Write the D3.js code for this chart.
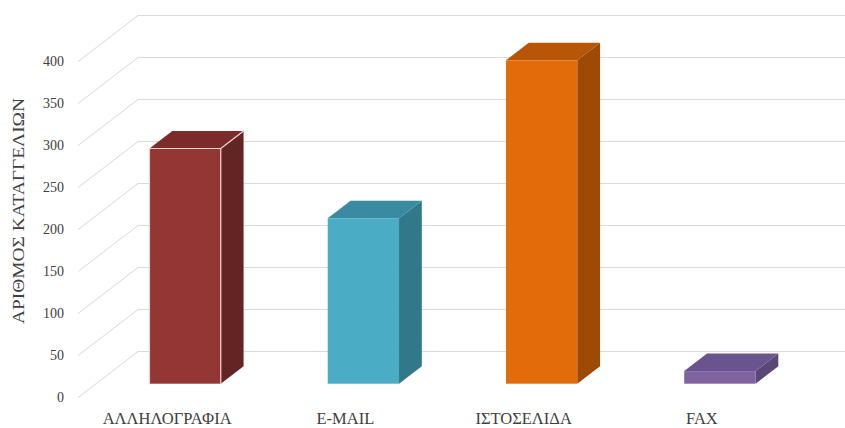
<!DOCTYPE html>
<html>
<head>
<meta charset="utf-8">
<script src="https://cdn.jsdelivr.net/npm/d3@7/dist/d3.min.js"></script>
<style>
  html, body { margin: 0; padding: 0; background: #ffffff; }
  svg { display: block; }
  text { font-family: "Liberation Serif", "DejaVu Serif", serif; fill: #404040; }
</style>
</head>
<body>
<script>
// Complaints received per channel
const categories = ["ΑΛΛΗΛΟΓΡΑΦΙΑ", "E-MAIL", "ΙΣΤΟΣΕΛΙΔΑ", "FAX"];
const complaints = [280, 197, 385, 15];
const yTicks = [0, 50, 100, 150, 200, 250, 300, 350, 400];
const yTitle = "ΑΡΙΘΜΟΣ ΚΑΤΑΓΓΕΛΙΩΝ";

// Face colours for each bar: front, side, top
const palette = [
  { front: "#943634", side: "#632523", top: "#7b2b2a" },
  { front: "#4bacc6", side: "#31788b", top: "#3a8ba2" },
  { front: "#e36c0a", side: "#9c4a06", top: "#b85608" },
  { front: "#8064a2", side: "#5b4776", top: "#6a5490" }
];

const W = 845, H = 428;
const svg = d3.select("body").append("svg").attr("width", W).attr("height", H);

// Oblique projection: full depth of the plot box
const depth = { dx: 60, dy: -46 };
const barNear = 0.3, barFar = 0.68;   // bar depth as fractions of the box depth

const x = d3.scaleBand().domain(categories).range([78, 791]).paddingInner(0.6).paddingOuter(0.3);
const y = d3.scaleLinear().domain([0, 400]).range([397.5, 61.5]);

const proj = (px, v, f) => [px + depth.dx * f, y(v) + depth.dy * f];

// Side wall diagonals and back wall gridlines
const grid = svg.append("g").attr("stroke", "#d9d9d9").attr("stroke-width", 1).attr("fill", "none");
yTicks.forEach(t => {
  const a = proj(78, t, 0), b = proj(78, t, 1);
  grid.append("line").attr("x1", a[0]).attr("y1", a[1]).attr("x2", b[0]).attr("y2", b[1]);
  grid.append("line").attr("x1", b[0]).attr("y1", b[1]).attr("x2", W).attr("y2", b[1]);
});

// Value axis labels
const yAxis = d3.axisLeft(y).tickValues(yTicks).tickSize(0).tickPadding(0);
const ya = svg.append("g").attr("transform", "translate(64,0)").call(yAxis);
ya.select(".domain").remove();
ya.selectAll("text").attr("font-size", 14).attr("font-family", "Liberation Serif, serif").attr("fill", "#595959");

// Axis title
svg.append("text")
  .attr("transform", "translate(20,211) rotate(-90)")
  .attr("text-anchor", "middle")
  .attr("dominant-baseline", "middle")
  .attr("font-size", 16)
  .attr("textLength", 226)
  .attr("lengthAdjust", "spacingAndGlyphs")
  .text(yTitle);

// Bars as extruded boxes
const bars = svg.append("g");
categories.forEach((c, i) => {
  const v = complaints[i];
  const x0 = x(c), x1 = x(c) + x.bandwidth();
  const col = palette[i];
  const p = (px, val, f) => proj(px, val, f).join(",");
  // right side face
  bars.append("polygon")
    .attr("points", [p(x1, 0, barNear), p(x1, v, barNear), p(x1, v, barFar), p(x1, 0, barFar)].join(" "))
    .attr("fill", col.side);
  // top face
  bars.append("polygon")
    .attr("points", [p(x0, v, barNear), p(x1, v, barNear), p(x1, v, barFar), p(x0, v, barFar)].join(" "))
    .attr("fill", col.top);
  // front face
  const f0 = proj(x0, v, barNear), f1 = proj(x1, 0, barNear);
  bars.append("rect")
    .attr("x", f0[0]).attr("y", f0[1])
    .attr("width", f1[0] - f0[0]).attr("height", f1[1] - f0[1])
    .attr("fill", col.front);
  if (i === 0) {
    // highlighted edges on the first bar
    const e = [proj(x0, 0, barNear), proj(x0, v, barNear), proj(x1, v, barNear), proj(x1, 0, barNear)];
    const t = proj(x1, v, barFar);
    bars.append("path")
      .attr("d", `M${e[0]}L${e[1]}L${e[2]}L${e[3]}M${e[2]}L${t}`)
      .attr("fill", "none").attr("stroke", "#f4d2d0").attr("stroke-width", 1.2);
  }
});

// Category labels
svg.append("g").selectAll("text").data(categories).join("text")
  .attr("x", d => x(d) + x.bandwidth() / 2)
  .attr("y", 420)
  .attr("text-anchor", "middle")
  .attr("dominant-baseline", "middle")
  .attr("font-size", 16.5)
  .text(d => d);
</script>
</body>
</html>
